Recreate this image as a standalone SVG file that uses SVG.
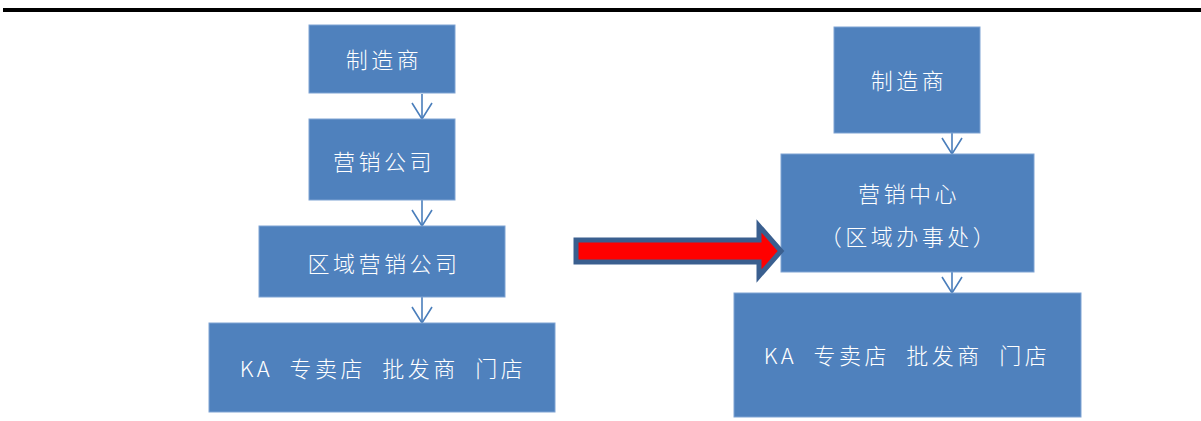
<svg xmlns="http://www.w3.org/2000/svg" width="1201" height="421" viewBox="0 0 1201 421">
<style>
.box{fill:#4f81bd;stroke:#7fa3d3;stroke-width:1}
.t{fill:#ffffff;font-family:"Noto Sans CJK SC","Noto Sans",sans-serif;font-size:22px;font-weight:300;letter-spacing:3.5px;text-anchor:middle;dominant-baseline:central}
.ka{word-spacing:8px}
.c{stroke:#4a7ebb;stroke-width:1.6;fill:none}
</style>
<defs>
<marker id="v" markerUnits="userSpaceOnUse" markerWidth="18" markerHeight="22" viewBox="0 0 18 22" refX="16" refY="11" orient="auto" overflow="visible">
<path d="M0,1 L16,11 L0,21" fill="none" stroke="#4a7ebb" stroke-width="1.6"/>
</marker>
</defs>
<rect x="3" y="8" width="1198" height="4" fill="#000000"/>
<g id="connectors">
<line class="c" x1="422" y1="94" x2="422" y2="119" marker-end="url(#v)"/>
<line class="c" x1="422" y1="200" x2="422" y2="226" marker-end="url(#v)"/>
<line class="c" x1="422" y1="297" x2="422" y2="323" marker-end="url(#v)"/>
<line class="c" x1="952" y1="126" x2="952" y2="154" marker-end="url(#v)"/>
<line class="c" x1="952" y1="265" x2="952" y2="293" marker-end="url(#v)"/>
</g>
<g id="l1"><rect class="box" x="309" y="25" width="146" height="68"/><text class="t" x="384" y="58">制造商</text></g>
<g id="l2"><rect class="box" x="309" y="119" width="146" height="81"/><text class="t" x="384" y="160">营销公司</text></g>
<g id="l3"><rect class="box" x="259" y="226" width="246" height="71"/><text class="t" x="384" y="262">区域营销公司</text></g>
<g id="l4"><rect class="box" x="209" y="323" width="346" height="89"/><text class="t ka" x="383" y="367">KA 专卖店 批发商 门店</text></g>
<g id="r1"><rect class="box" x="834" y="27" width="146" height="106"/><text class="t" x="909" y="79">制造商</text></g>
<g id="r2"><rect class="box" x="781" y="154" width="253" height="118"/><text class="t" x="909" y="192">营销中心</text><text class="t" x="909" y="235">（区域办事处）</text></g>
<g id="r3"><rect class="box" x="734" y="293" width="347" height="124"/><text class="t ka" x="907" y="354">KA 专卖店 批发商 门店</text></g>
<g id="bigArrow">
<path d="M576,240 L759,240 L759,226 L781,251 L759,276 L759,262 L576,262 Z" fill="#ff0000" stroke="#3a5f8f" stroke-width="5" stroke-linejoin="miter"/>
</g>
</svg>
